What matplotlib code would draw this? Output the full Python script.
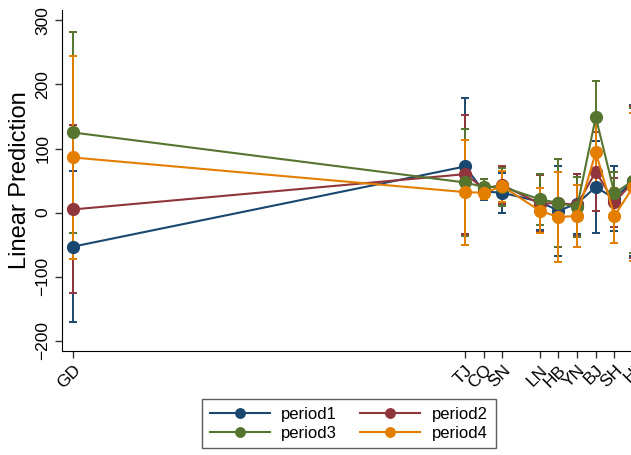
import matplotlib

matplotlib.use("Agg")
import matplotlib.pyplot as plt  # noqa: E402

plt.rcParams["font.family"] = ["Liberation Sans", "DejaVu Sans"]

regions = ["GD", "TJ", "CQ", "SN", "LN", "HB", "YN", "BJ", "SH", "HI"]
region_pos = [0, 21, 22, 23, 25, 26, 27, 28, 29, 30]

series = ["period1", "period2", "period3", "period4"]
colors = ["#1a476f", "#90353b", "#55752f", "#e37e00"]

# point estimates and CI half-widths
pred = {
    "period1": [-53, 72, 33, 31, 17, 3, 14, 40, 22, 50],
    "period2": [5, 60, 38, 43, 14, 15, 12, 64, 16, 48],
    "period3": [125, 47, 40, 40, 21, 15, 9, 149, 30, 50],
    "period4": [86, 32, 31, 41, 3, -7, -5, 94, -5, 40],
}
half = {
    "period1": [118, 107, 13, 31, 44, 70, 47, 71, 50, 118],
    "period2": [131, 93, 14, 29, 44, 68, 48, 62, 38, 118],
    "period3": [156, 83, 12, 30, 40, 68, 47, 57, 34, 113],
    "period4": [158, 82, 10, 24, 35, 70, 48, 48, 43, 116],
}

fig = plt.figure(figsize=(6.31, 4.55), dpi=100)
ax = fig.add_axes([62 / 631, (455 - 350.7) / 455, 590 / 631, 340.7 / 455])

for name, c in zip(series, colors):
    ax.errorbar(region_pos, pred[name], yerr=half[name], fmt="none", ecolor=c,
                elinewidth=1.4, capsize=3.2, capthick=1.4, zorder=2)
lines = {}
for name, c in zip(series, colors):
    (lines[name],) = ax.plot(region_pos, pred[name], color=c, lw=1.5, marker="o",
                             ms=8.5, label=name, zorder=3)

ax.set_xlim(-0.59, -0.59 + 590 / 18.67)
ax.set_ylim(-215.3, 316)
ax.set_yticks([-200, -100, 0, 100, 200, 300])
ax.set_yticklabels(["\u2212200", "\u2212100", "0", "100", "200", "300"],
                   rotation=90, va="center", fontsize=12.5)
ax.set_xticks(region_pos)
ax.set_xticklabels(regions, rotation=45, ha="right", rotation_mode="anchor", fontsize=12.5)
ax.set_ylabel("Linear Prediction", fontsize=17)
ax.yaxis.set_label_coords(-0.052, 0.5)
for s in ["top", "right"]:
    ax.spines[s].set_visible(False)
ax.tick_params(length=5, width=1, color="#333333")

order = ["period1", "period3", "period2", "period4"]
fig.legend([lines[n] for n in order], order, loc="upper left",
           bbox_to_anchor=(202 / 631, 1 - 399 / 455), ncol=2,
           fontsize=12, frameon=True, fancybox=False, edgecolor="#333333",
           handlelength=3.6, columnspacing=1.4, borderpad=0.45, labelspacing=0.25,
           handletextpad=0.7, markerscale=0.8, borderaxespad=0)

fig.savefig("out.png", dpi=100)
plt.close(fig)
